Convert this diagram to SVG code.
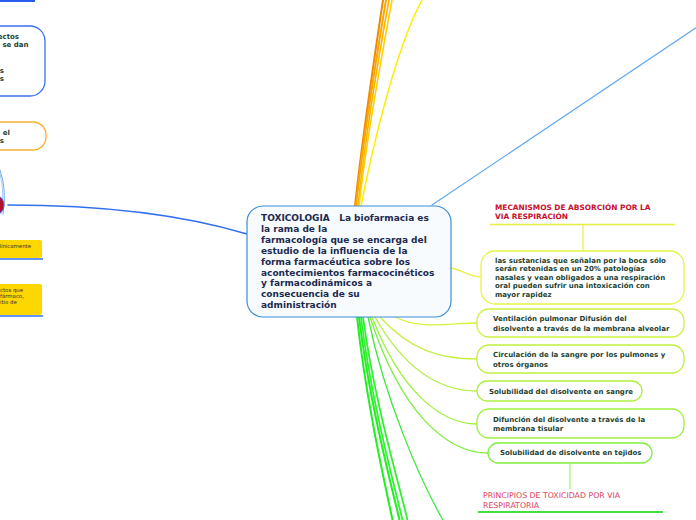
<svg xmlns="http://www.w3.org/2000/svg" width="696" height="520" viewBox="0 0 696 520">
<style>
.c{fill:none;stroke-linecap:round}
.ct{font-family:"DejaVu Sans",Verdana,sans-serif;font-weight:bold;font-size:9px;fill:#1b2a4e;white-space:pre}
.t{font-family:"DejaVu Sans",Verdana,sans-serif;font-weight:bold;font-size:7px;fill:#1d4232}
.h{font-family:"DejaVu Sans",Verdana,sans-serif;font-weight:bold;font-size:7.4px;fill:#c8102e}
.p{font-family:"DejaVu Sans",Verdana,sans-serif;font-size:7.8px;fill:#e0405a}
.s{font-family:"DejaVu Sans",Verdana,sans-serif;font-size:5.4px;fill:#333}
.n{fill:#fff;stroke-width:1.3}
</style>
<rect width="696" height="520" fill="#fff"/>
<g id="connectors">
  <path class="c" d="M355,206 C362,140 374,60 383,0" stroke="#f08a00" stroke-width="2"/>
  <path class="c" d="M356,206 C363,140 376,60 386,0" stroke="#f7a800" stroke-width="2"/>
  <path class="c" d="M358,206 C365,140 378,60 389,0" stroke="#ffb000" stroke-width="1.6"/>
  <path class="c" d="M359,206 C366,140 381,60 392,0" stroke="#ffd000" stroke-width="1.6"/>
  <path class="c" d="M361,206 C372,150 395,50 422,0" stroke="#ffee00" stroke-width="1.5"/>
  <path class="c" d="M432,205 L700,25" stroke="#60a8f0" stroke-width="1.2"/>
  <path class="c" d="M247,234 C180,214 100,205 8,205" stroke="#3070f0" stroke-width="1.5"/>
  <path class="c" d="M451,268 C462,270 470,277 481,277" stroke="#e8f040" stroke-width="1.3"/>
  <path class="c" d="M395,317 C420,330 450,323 477,323" stroke="#d4f440" stroke-width="1.3"/>
  <path class="c" d="M380,317 C410,350 440,359 477,359" stroke="#c4f040" stroke-width="1.3"/>
  <path class="c" d="M375,317 C405,370 440,391 477,391" stroke="#b0f040" stroke-width="1.3"/>
  <path class="c" d="M372,317 C400,390 440,424 477,424" stroke="#a0f040" stroke-width="1.3"/>
  <path class="c" d="M370,317 C400,410 445,453 488,453" stroke="#80ee40" stroke-width="1.3"/>
  <path class="c" d="M357,317 C366,400 384,480 393,522" stroke="#20ee20" stroke-width="2"/>
  <path class="c" d="M359,317 C369,400 390,480 400,522" stroke="#20ee20" stroke-width="2"/>
  <path class="c" d="M361,317 C371,400 393,480 403,522" stroke="#30f030" stroke-width="1.8"/>
  <path class="c" d="M363,317 C374,400 398,480 408,522" stroke="#30f030" stroke-width="1.8"/>
  <path class="c" d="M368,317 C385,400 420,480 444,522" stroke="#40e840" stroke-width="1.3"/>
  <line x1="583" y1="224" x2="583" y2="251" stroke="#e8f040" stroke-width="1.2"/>
  <line x1="570" y1="463" x2="570" y2="489" stroke="#a8f070" stroke-width="1.2"/>
</g>
<g id="central">
  <rect x="247" y="206" width="204" height="111" rx="16" fill="#f7fbfe" stroke="#3a8fd8" stroke-width="1.2"/>
  <text class="ct" xml:space="preserve"><tspan x="261" y="221">TOXICOLOGIA   La biofarmacia es</tspan><tspan x="261" y="231.9">la rama de la</tspan><tspan x="261" y="242.8">farmacología que se encarga del</tspan><tspan x="261" y="253.7">estudio de la influencia de la</tspan><tspan x="261" y="264.6">forma farmacéutica sobre los</tspan><tspan x="261" y="275.5">acontecimientos farmacocinéticos</tspan><tspan x="261" y="286.4">y farmacodinámicos a</tspan><tspan x="261" y="297.3">consecuencia de su</tspan><tspan x="261" y="308.2">administración</tspan></text>
</g>
<g id="mecanismos">
  <text class="h"><tspan x="495" y="210">MECANISMOS DE ABSORCIÓN POR LA</tspan><tspan x="495" y="219">VIA RESPIRACIÓN</tspan></text>
  <line x1="490" y1="224.5" x2="675" y2="224.5" stroke="#e8f040" stroke-width="1.4"/>
</g>
<g id="sustancias">
  <rect class="n" x="481" y="251" width="203" height="53" rx="14" stroke="#e6f542"/>
  <text class="t"><tspan x="495" y="262.5">las sustancias que señalan por la boca sólo</tspan><tspan x="495" y="271">serán retenidas en un 20% patologías</tspan><tspan x="495" y="279.5">nasales y vean obligados a una respiración</tspan><tspan x="495" y="288">oral pueden sufrir una intoxicación con</tspan><tspan x="495" y="296.5">mayor rapidez</tspan></text>
</g>
<g id="ventilacion">
  <rect class="n" x="477" y="309" width="207" height="28" rx="12" stroke="#ccf240"/>
  <text class="t"><tspan x="493" y="321">Ventilación pulmonar Difusión del</tspan><tspan x="493" y="330.5">disolvente a través de la membrana alveolar</tspan></text>
</g>
<g id="circulacion">
  <rect class="n" x="477" y="345" width="207" height="28" rx="12" stroke="#bff040"/>
  <text class="t"><tspan x="493" y="357">Circulación de la sangre por los pulmones y</tspan><tspan x="493" y="366.5">otros órganos</tspan></text>
</g>
<g id="solubilidad-sangre">
  <rect class="n" x="477" y="381" width="165" height="20" rx="10" stroke="#aef040"/>
  <text class="t" x="489" y="393.5">Solubilidad del disolvente en sangre</text>
</g>
<g id="difuncion">
  <rect class="n" x="477" y="409" width="207" height="29" rx="12" stroke="#9ef040"/>
  <text class="t"><tspan x="493" y="421.5">Difunción del disolvente a través de la</tspan><tspan x="493" y="430.5">membrana tisular</tspan></text>
</g>
<g id="solubilidad-tejidos">
  <rect class="n" x="488" y="443" width="164" height="20" rx="10" stroke="#80ee40"/>
  <text class="t" x="500" y="455">Solubilidad de disolvente en tejidos</text>
</g>
<g id="principios">
  <text class="p"><tspan x="483" y="498">PRINCIPIOS DE TOXICIDAD POR VIA</tspan><tspan x="483" y="507.5">RESPIRATORIA</tspan></text>
  <line x1="478" y1="512" x2="663" y2="512" stroke="#40e040" stroke-width="1.8"/>
</g>
<g id="left-top">
  <line x1="0" y1="1" x2="35" y2="1" stroke="#2a5cf0" stroke-width="2"/>
</g>
<g id="left-blue">
  <rect class="n" x="-30" y="26" width="75" height="70" rx="15" stroke="#3a6ff0"/>
  <text class="t" text-anchor="end"><tspan x="19" y="38.5">ectos</tspan><tspan x="28.5" y="47">o se dan</tspan><tspan x="4" y="72.5">s</tspan><tspan x="4" y="81">s</tspan></text>
</g>
<g id="left-orange">
  <rect class="n" x="-30" y="122" width="76" height="28" rx="13" stroke="#f8b030"/>
  <text class="t" text-anchor="end"><tspan x="10" y="134.5">el</tspan><tspan x="4" y="143">s</tspan></text>
</g>
<g id="left-collapsed">
  <path class="c" d="M0,170 Q7,190 3,214" stroke="#70a8f0" stroke-width="1"/>
  <path class="c" d="M0,174 Q5,192 1,214" stroke="#90c0f0" stroke-width="0.8"/>
  <ellipse cx="-3" cy="205" rx="7" ry="9" fill="#b01030" stroke="#3a70f0" stroke-width="1"/>
</g>
<g id="left-yellow1">
  <rect x="-5" y="240" width="47" height="18" rx="2" fill="#ffd700"/>
  <line x1="0" y1="259" x2="43" y2="259" stroke="#3070f0" stroke-width="1.5"/>
  <text class="s" text-anchor="end" x="31" y="248">línicamente</text>
</g>
<g id="left-yellow2">
  <rect x="-5" y="284" width="47" height="31" rx="2" fill="#ffd700"/>
  <line x1="0" y1="316" x2="43" y2="316" stroke="#3070f0" stroke-width="1.5"/>
  <text class="s"><tspan x="0" y="291.5">ctos que</tspan><tspan x="0" y="297.5">fármaco,</tspan><tspan x="0" y="303.5">itio de</tspan></text>
</g>
</svg>
